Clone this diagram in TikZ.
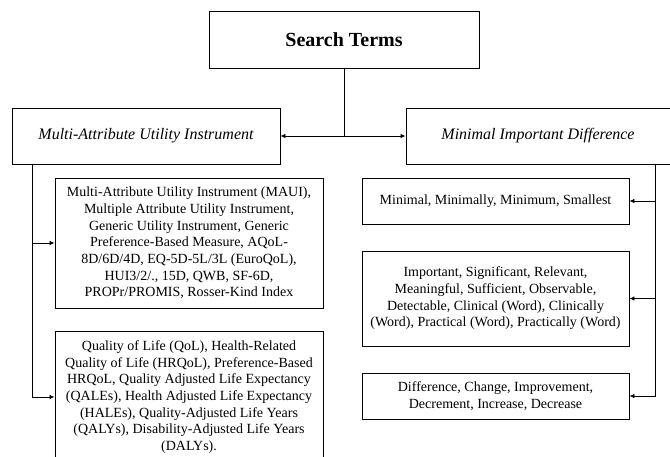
\documentclass[tikz,border=0pt]{standalone}
\usepackage{fontspec}
\setmainfont{Liberation Serif}
\usetikzlibrary{positioning,arrows.meta}

\begin{document}
\begin{tikzpicture}[x=1pt,y=-1pt,
    box/.style={draw, line width=0.9pt, align=center, inner sep=0pt},
    termbox/.style={box, minimum width=268, font=\fontsize{14}{16.7}\selectfont},
    headbox/.style={box, minimum height=56, font=\fontsize{16}{19}\selectfont\itshape},
    link/.style={line width=0.8pt},
    arr/.style={link, -{Latex[length=5pt,width=4.5pt]}}
    ]
  \useasboundingbox (0,0) rectangle (670,456);
  \node [box, minimum width=270, minimum height=57, font=\fontsize{20}{24}\selectfont\bfseries] (search) at (344,39.5) {Search Terms};
  \node [headbox, minimum width=268] (maui) at (146,136) {Multi-Attribute Utility Instrument};
  \node [headbox, minimum width=264] (mid) at (538,136) {Minimal Important Difference};
  \node [termbox, minimum height=130] (inst) at (189,243) {Multi-Attribute Utility Instrument (MAUI),\\ Multiple Attribute Utility Instrument,\\ Generic Utility Instrument, Generic\\ Preference-Based Measure, AQoL-\\ 8D/6D/4D, EQ-5D-5L/3L (EuroQoL),\\ HUI3/2/., 15D, QWB, SF-6D,\\ PROPr/PROMIS, Rosser-Kind Index};
  \node [termbox, minimum height=132] (qol) at (189,397) {Quality of Life (QoL), Health-Related\\ Quality of Life (HRQoL), Preference-Based\\ HRQoL, Quality Adjusted Life Expectancy\\ (QALEs), Health Adjusted Life Expectancy\\ (HALEs), Quality-Adjusted Life Years\\ (QALYs), Disability-Adjusted Life Years\\ (DALYs).};
  \node [termbox, minimum width=267, minimum height=46] (minw) at (495.5,201) {Minimal, Minimally, Minimum, Smallest};
  \node [termbox, minimum width=267, minimum height=95] (impw) at (495.5,298.5) {Important, Significant, Relevant,\\ Meaningful, Sufficient, Observable,\\ Detectable, Clinical (Word), Clinically\\ (Word), Practical (Word), Practically (Word)};
  \node [termbox, minimum width=267, minimum height=46] (difw) at (495.5,396) {Difference, Change, Improvement,\\ Decrement, Increase, Decrease};
  \coordinate (split) at (search.south |- maui.east);
  \coordinate (ltrunk) at ([xshift=21pt]maui.south west);
  \coordinate (rtrunk) at ([xshift=-15pt]mid.south east);
  \draw [link] (search.south) -- (split);
  \draw [arr] (split) -- (maui.east);
  \draw [arr] (split) -- (mid.west);
  \draw [arr] (ltrunk) |- (inst.west);
  \draw [arr] (ltrunk) |- (qol.west);
  \draw [arr] (rtrunk) |- (minw.east);
  \draw [arr] (rtrunk) |- (impw.east);
  \draw [arr] (rtrunk) |- (difw.east);
\end{tikzpicture}
\end{document}
